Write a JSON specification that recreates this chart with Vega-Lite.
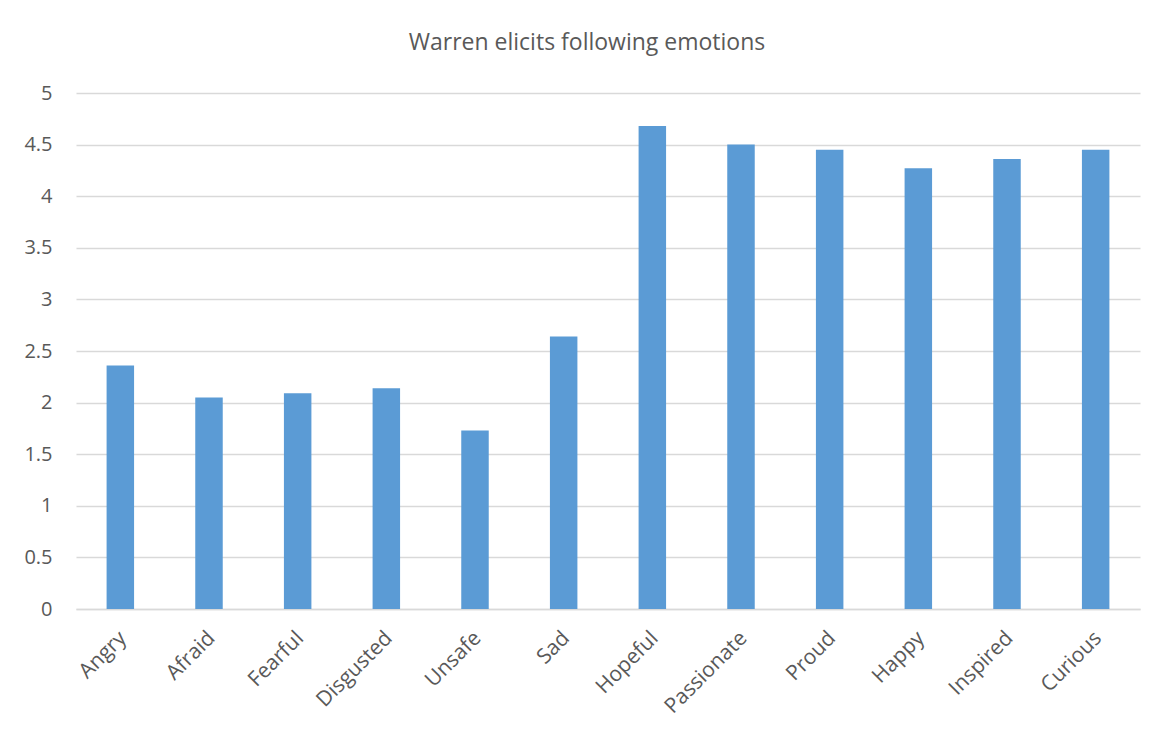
{
  "$schema": "https://vega.github.io/schema/vega-lite/v6.json",
  "width": 1064,
  "height": 516,
  "autosize": "none",
  "padding": {"left": 76, "top": 93, "right": 24, "bottom": 123},
  "background": "white",
  "title": {
    "text": "Warren elicits following emotions",
    "anchor": "middle",
    "dx": -21,
    "offset": 28,
    "fontSize": 23,
    "font": "Open Sans",
    "fontWeight": "normal",
    "color": "#595959"
  },
  "data": {
    "values": [
      {"emotion": "Angry", "value": 2.36},
      {"emotion": "Afraid", "value": 2.05},
      {"emotion": "Fearful", "value": 2.09},
      {"emotion": "Disgusted", "value": 2.14},
      {"emotion": "Unsafe", "value": 1.73},
      {"emotion": "Sad", "value": 2.64},
      {"emotion": "Hopeful", "value": 4.68},
      {"emotion": "Passionate", "value": 4.5},
      {"emotion": "Proud", "value": 4.45},
      {"emotion": "Happy", "value": 4.27},
      {"emotion": "Inspired", "value": 4.36},
      {"emotion": "Curious", "value": 4.45}
    ]
  },
  "mark": {"type": "bar", "color": "#5B9BD5"},
  "encoding": {
    "x": {
      "field": "emotion",
      "type": "nominal",
      "sort": null,
      "scale": {"paddingInner": 0.69, "paddingOuter": 0.345},
      "axis": {
        "title": null,
        "labelAngle": -45,
        "labelFontSize": 21,
        "labelFont": "Open Sans",
        "labelColor": "#595959",
        "labelPadding": 18,
        "labelOffset": -5,
        "ticks": false,
        "domain": true,
        "domainColor": "#D9D9D9",
        "domainWidth": 1.5
      }
    },
    "y": {
      "field": "value",
      "type": "quantitative",
      "scale": {"domain": [0, 5]},
      "axis": {
        "title": null,
        "values": [0, 0.5, 1, 1.5, 2, 2.5, 3, 3.5, 4, 4.5, 5],
        "format": "~g",
        "labelFontSize": 20,
        "labelFont": "Open Sans",
        "labelColor": "#595959",
        "labelPadding": 24,
        "ticks": false,
        "domain": false,
        "gridColor": "#D9D9D9",
        "gridWidth": 1.5
      }
    }
  },
  "config": {
    "view": {"stroke": null}
  }
}
